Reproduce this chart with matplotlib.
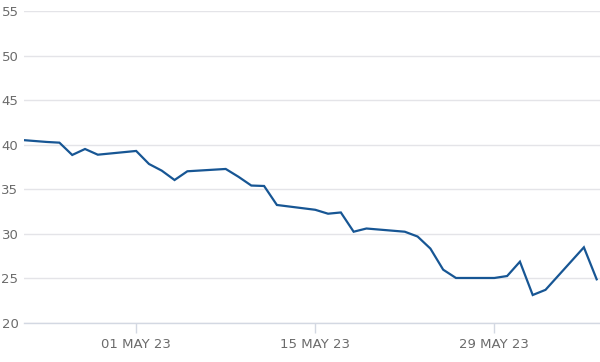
import pandas as pd
import matplotlib.pyplot as plt
import matplotlib.dates as mdates

# daily closes (business days)
dates = ["2023-04-21", "2023-04-24", "2023-04-25", "2023-04-26", "2023-04-27", "2023-04-28",
         "2023-05-01", "2023-05-02", "2023-05-03", "2023-05-04", "2023-05-05",
         "2023-05-08", "2023-05-09", "2023-05-10", "2023-05-11", "2023-05-12",
         "2023-05-15", "2023-05-16", "2023-05-17", "2023-05-18", "2023-05-19",
         "2023-05-22", "2023-05-23", "2023-05-24", "2023-05-25", "2023-05-26",
         "2023-05-29", "2023-05-30", "2023-05-31", "2023-06-01", "2023-06-02",
         "2023-06-05", "2023-06-06"]
values = [40.65, 40.31, 40.23, 38.85, 39.52, 38.88,
          39.30, 37.84, 37.09, 36.04, 37.02,
          37.28, 36.40, 35.42, 35.37, 33.24,
          32.70, 32.26, 32.40, 30.24, 30.60,
          30.24, 29.70, 28.35, 25.98, 25.05,
          25.05, 25.27, 26.88, 23.14, 23.72,
          28.49, 24.90]
tick_dates = ["2023-05-01", "2023-05-15", "2023-05-29"]
y_ticks = [20, 25, 30, 35, 40, 45, 50, 55]

dates = pd.to_datetime(dates)
tick_dates = pd.to_datetime(tick_dates)

fig = plt.figure(figsize=(6, 3.62), dpi=100)
ax = fig.add_axes([24 / 600, 39 / 362, 576 / 600, 312 / 362])

ax.plot(dates, values, color="#175694", linewidth=1.6, solid_joinstyle="miter")

# axis runs from a little before 24 Apr to just past 6 Jun
x0 = mdates.date2num(pd.Timestamp("2023-04-24")) - 1.77
x1 = mdates.date2num(pd.Timestamp("2023-06-06")) + 0.26
ax.set_xlim(x0, x1)
ax.set_ylim(20, 55)

ax.set_yticks(y_ticks)
ax.grid(axis="y", color="#e4e4e8", linewidth=1)
ax.set_axisbelow(True)

ax.set_xticks(tick_dates)
ax.set_xticklabels([d.strftime("%d %b %y").upper() for d in tick_dates])

for side in ["top", "right", "left"]:
    ax.spines[side].set_visible(False)
ax.spines["bottom"].set_color("#d3d8e2")
ax.spines["bottom"].set_linewidth(1)

ax.tick_params(axis="x", colors="#d3d8e2", length=7, width=1, pad=4,
               labelcolor="#6b6b6b", labelsize=9.5)
ax.tick_params(axis="y", length=0, pad=4, labelcolor="#6b6b6b", labelsize=9.5)

fig.savefig("out.png", dpi=100)
